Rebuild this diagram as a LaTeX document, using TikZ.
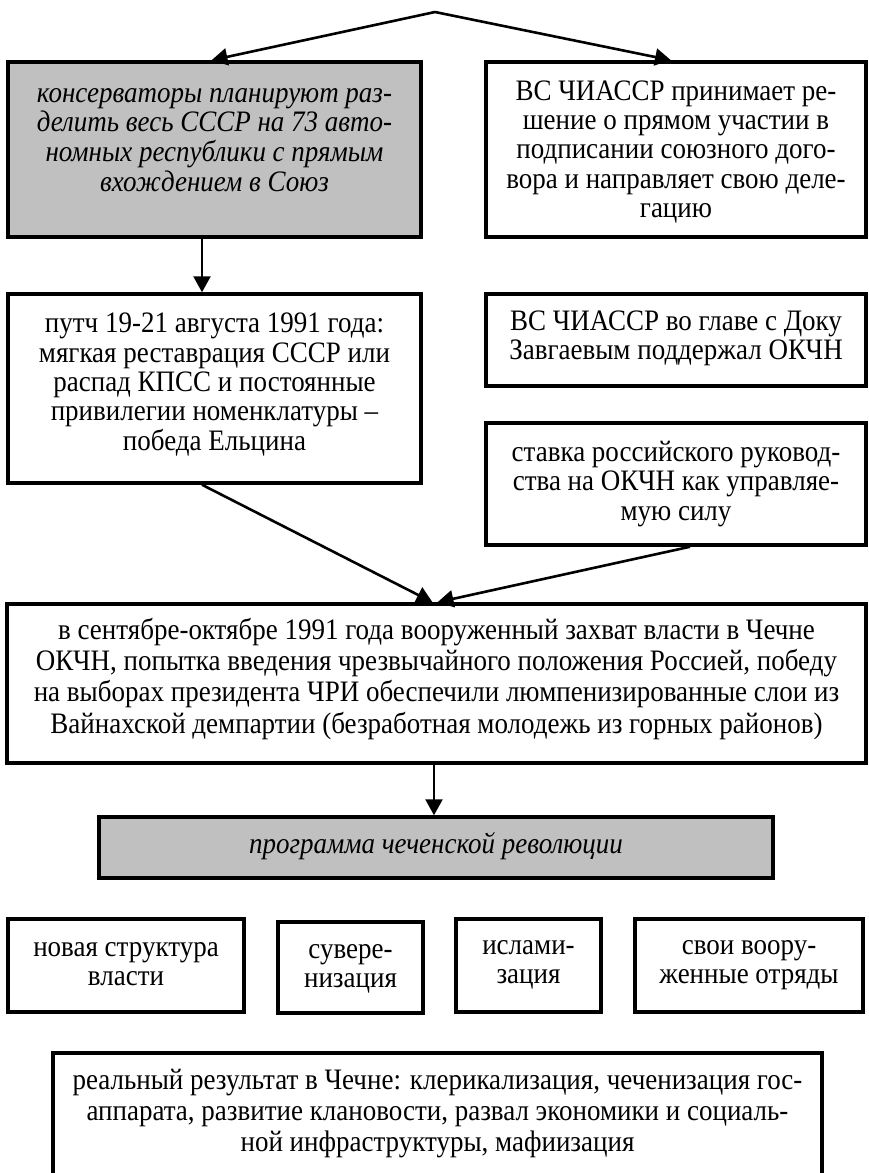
\documentclass[tikz,border=0pt]{standalone}
\usepackage{fontspec}
\usepackage{graphicx}
\setmainfont{Liberation Serif}
\usetikzlibrary{arrows.meta}
\definecolor{boxgray}{RGB}{192,192,192}
\newcommand{\vtext}[1]{\scalebox{1}[1.1]{\begin{tabular}{@{}c@{}}#1\end{tabular}}}
\begin{document}
\begin{tikzpicture}[x=1pt,y=-1pt,
  box/.style={draw=black, line width=3.5pt, rectangle, inner sep=0pt},
  graybox/.style={box, fill=boxgray},
  txt/.style={inner sep=0pt, font=\fontsize{27}{26.6}\selectfont},
  widetxt/.style={inner sep=0pt, font=\fontsize{27}{28.4}\selectfont},
  itxt/.style={inner sep=0pt, font=\fontsize{27}{26.6}\selectfont\itshape},
  arr/.style={line width=2.6pt, -{Triangle[length=16pt,width=17pt]}}
]
\useasboundingbox (0,0) rectangle (869,1173);
\coordinate (apex) at (435,12);

% row 1
\node[graybox, minimum width=413pt, minimum height=175pt] (A) at (214.5,149.5) {};
\node[itxt] (At) at (214.5,141) {\vtext{консерваторы планируют раз-\\делить весь СССР на 73 авто-\\номных республики с прямым\\вхождением в Союз}};
\node[box, minimum width=380pt, minimum height=175pt] (B) at (676,149.5) {};
\node[txt] (Bt) at (676,153) {\vtext{ВС ЧИАССР принимает ре-\\шение о прямом участии в\\подписании союзного дого-\\вора и направляет свою деле-\\гацию}};

% row 2
\node[box, minimum width=413pt, minimum height=189pt] (C) at (214.5,388.5) {};
\node[txt] (Ct) at (214.5,386) {\vtext{путч 19-21 августа 1991 года:\\мягкая реставрация СССР или\\распад КПСС и постоянные\\привилегии номенклатуры –\\победа Ельцина}};
\node[box, minimum width=380pt, minimum height=92pt] (D) at (676,340) {};
\node[txt] (Dt) at (676,339) {\vtext{ВС ЧИАССР во главе с Доку\\Завгаевым поддержал ОКЧН}};
\node[box, minimum width=380pt, minimum height=122pt] (E) at (676,484) {};
\node[txt] (Et) at (676,485) {\vtext{ставка российского руковод-\\ства на ОКЧН как управляе-\\мую силу}};

% big box
\node[box, minimum width=859pt, minimum height=159pt] (F) at (436.5,683.5) {};
\node[widetxt] (Ft) at (436.5,680) {\vtext{в сентябре-октябре 1991 года вооруженный захват власти в Чечне\\ОКЧН, попытка введения чрезвычайного положения Россией, победу\\на выборах президента ЧРИ обеспечили люмпенизированные слои из\\Вайнахской демпартии (безработная молодежь из горных районов)}};

% program
\node[graybox, minimum width=674pt, minimum height=61pt] (G) at (436,847.5) {};
\node[itxt] (Gt) at (436,847) {\vtext{программа чеченской революции}};

% four boxes
\node[box, minimum width=236pt, minimum height=93pt] (H1) at (126,965.5) {};
\node[txt] (H1t) at (126,965) {\vtext{новая структура\\власти}};
\node[box, minimum width=145pt, minimum height=91pt] (H2) at (350.5,967.5) {};
\node[txt] (H2t) at (350.5,967) {\vtext{сувере-\\низация}};
\node[box, minimum width=145pt, minimum height=93pt] (H3) at (528.5,965.5) {};
\node[txt] (H3t) at (528.5,963) {\vtext{ислами-\\зация}};
\node[box, minimum width=228pt, minimum height=93pt] (H4) at (749,965.5) {};
\node[txt] (H4t) at (749,963) {\vtext{свои воору-\\женные отряды}};

% result
\node[box, minimum width=769pt, minimum height=140pt] (I) at (437.5,1123) {};
\node[widetxt] (It) at (437.5,1114) {\vtext{реальный результат в Чечне: клерикализация, чеченизация гос-\\аппарата, развитие клановости, развал экономики и социаль-\\ной инфраструктуры, мафиизация}};

% connectors
\draw[arr, line join=miter] (apex) -- ([xshift=-3pt]A.north);
\draw[arr, line join=miter] (apex) -- ([xshift=-5pt]B.north);
\draw[arr] ([xshift=-12.5pt]A.south) -- ([xshift=-12.5pt]C.north);
\draw[arr] ([xshift=-12.5pt]C.south) -- ([xshift=-4pt]F.north);
\draw[arr] ([xshift=14pt]E.south) -- ([xshift=1pt]F.north);
\draw[arr] ([xshift=-2.5pt]F.south) -- ([xshift=-2pt]G.north);
\end{tikzpicture}
\end{document}
